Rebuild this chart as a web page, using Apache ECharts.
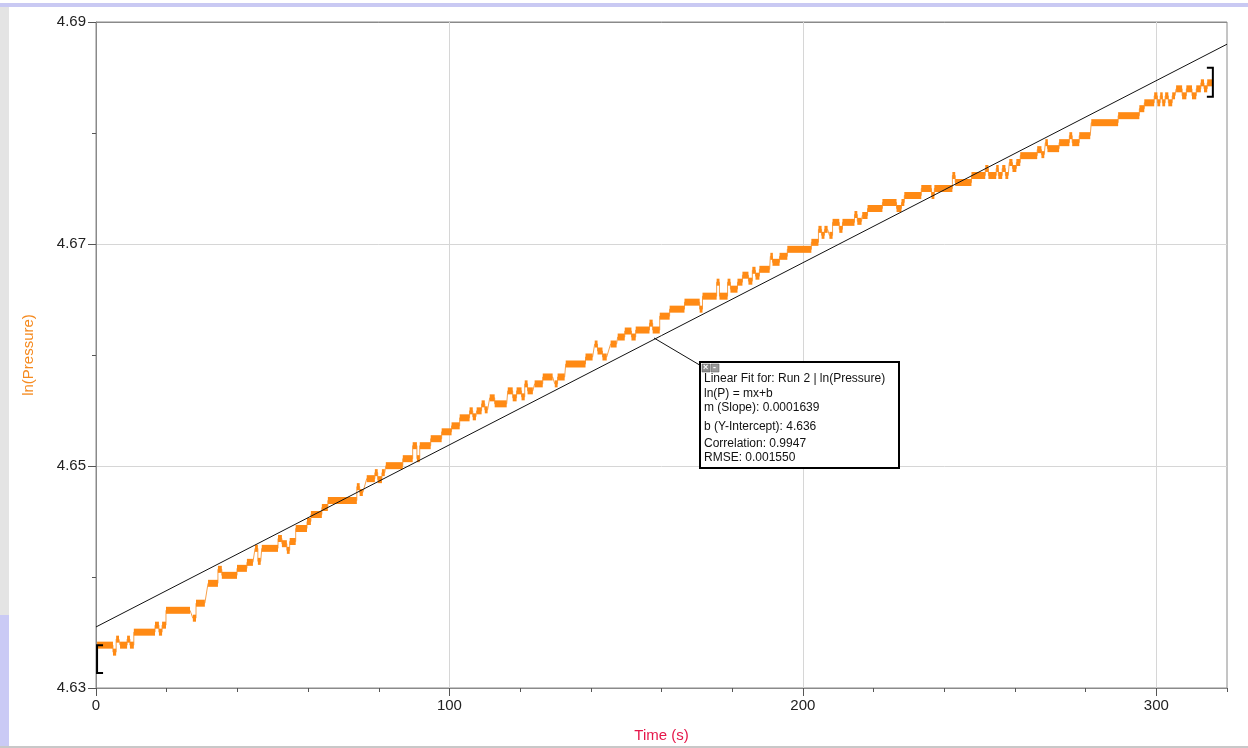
<!DOCTYPE html>
<html><head><meta charset="utf-8">
<script src="https://cdn.jsdelivr.net/npm/echarts@6/dist/echarts.min.js"></script>
<style>html,body{margin:0;padding:0;background:#fff;overflow:hidden}#c{width:1248px;height:748px}</style>
</head><body><div id="c"></div>
<script>
// Runs of the quantized ln(Pressure) trace: start time (s), end time (s), value
const runStart = [0.3,4.8,5.7,6.8,8.8,9.6,10.7,16.7,17.8,18.7,19.8,27.4,28.3,31.7,34.5,35.6,39.9,42.7,45.0,45.8,46.9,51.5,52.6,54.0,54.8,56.5,59.7,60.8,63.9,65.6,73.8,74.6,76.6,78.9,79.7,80.9,82.0,86.8,89.6,90.8,91.6,94.7,97.8,100.6,102.9,105.7,106.6,107.7,109.1,110.0,111.4,112.8,116.5,117.9,119.0,120.4,121.3,122.1,124.1,126.4,129.8,130.6,132.9,138.5,141.1,141.9,143.3,145.6,147.6,149.6,151.5,152.7,156.6,157.5,159.5,162.3,166.5,170.8,171.6,175.6,176.4,178.7,179.5,181.5,182.9,184.6,185.7,186.6,187.7,190.8,191.4,193.4,195.6,202.4,204.4,205.3,206.1,207.5,208.4,210.3,211.2,214.6,215.4,216.8,218.3,222.5,226.5,227.9,228.7,233.5,236.4,237.2,242.3,243.1,247.7,251.6,252.5,254.7,255.3,256.4,257.3,258.4,259.3,260.4,261.5,266.3,267.5,268.6,269.2,272.5,275.4,276.2,278.2,281.6,289.2,295.2,296.6,299.4,300.3,301.1,301.7,302.5,303.4,304.5,305.6,307.3,308.5,310.1,311.3,312.6,313.5,314.4];
const runEnd = [4.8,5.7,6.5,8.8,9.6,10.7,16.7,17.8,18.7,19.8,26.6,28.3,30.8,34.5,35.6,39.9,42.7,44.4,45.8,46.6,51.5,52.6,54.0,54.8,56.5,59.7,60.8,63.9,65.6,73.8,74.6,75.5,78.9,79.7,80.9,81.7,86.8,89.6,90.8,91.6,94.7,97.8,100.6,102.9,105.7,106.6,107.5,109.1,110.0,110.8,112.8,116.2,117.9,119.0,120.4,121.3,122.1,123.6,126.4,129.2,130.6,132.6,138.5,140.5,141.9,143.3,144.5,147.3,149.6,151.5,152.7,156.6,157.5,159.5,162.3,166.5,170.8,171.6,175.6,176.4,178.7,179.5,181.5,182.9,184.6,185.7,186.6,187.7,190.6,191.4,193.4,195.6,202.4,204.4,205.3,206.1,207.0,208.4,210.3,211.2,214.6,215.4,216.6,218.3,222.5,226.5,227.9,228.7,233.5,236.4,237.2,242.3,243.1,247.7,251.6,252.5,254.7,255.3,256.4,257.3,258.1,259.3,260.4,261.5,266.3,267.5,268.3,269.2,272.5,275.4,276.2,278.2,281.3,289.2,295.2,296.6,299.4,300.3,301.1,301.7,302.5,303.4,304.5,305.3,307.3,308.5,310.1,311.3,312.6,313.5,314.4,315.8];
const runValue = [4.63386,4.63323,4.63440,4.63386,4.63440,4.63386,4.63503,4.63566,4.63503,4.63566,4.63700,4.63629,4.63764,4.63943,4.64069,4.64015,4.64078,4.64132,4.64258,4.64141,4.64258,4.64347,4.64300,4.64240,4.64320,4.64437,4.64500,4.64563,4.64626,4.64689,4.64814,4.64761,4.64886,4.64940,4.64877,4.64940,4.65003,4.65066,4.65183,4.65066,4.65183,4.65246,4.65308,4.65362,4.65434,4.65497,4.65443,4.65497,4.65560,4.65506,4.65614,4.65560,4.65677,4.65614,4.65677,4.65623,4.65740,4.65677,4.65740,4.65802,4.65740,4.65802,4.65919,4.65982,4.66099,4.66036,4.65982,4.66099,4.66162,4.66216,4.66162,4.66225,4.66287,4.66225,4.66350,4.66413,4.66476,4.66413,4.66530,4.66656,4.66530,4.66656,4.66593,4.66656,4.66719,4.66665,4.66763,4.66710,4.66772,4.66889,4.66835,4.66889,4.66952,4.67015,4.67132,4.67078,4.67132,4.67078,4.67195,4.67132,4.67195,4.67266,4.67204,4.67257,4.67320,4.67374,4.67320,4.67374,4.67437,4.67500,4.67437,4.67500,4.67617,4.67554,4.67617,4.67680,4.67617,4.67680,4.67617,4.67680,4.67617,4.67734,4.67680,4.67734,4.67796,4.67850,4.67805,4.67913,4.67859,4.67913,4.67976,4.67913,4.67976,4.68093,4.68156,4.68219,4.68272,4.68335,4.68272,4.68335,4.68272,4.68335,4.68272,4.68335,4.68398,4.68335,4.68398,4.68335,4.68398,4.68452,4.68398,4.68452];

// Linear fit line end points (time, ln P)
const fitTime = [0, 320];
const fitValue = [4.6355, 4.6880];

// Data-range brackets: time, top value, bottom value, direction (-1 = "[", 1 = "]")
const bracketTime = [0.3, 316.0];
const bracketTop = [4.63386, 4.68587];
const bracketBottom = [4.63135, 4.68326];
const bracketDir = [-1, 1];

// Axis ticks
const xMajorTicks = [0, 100, 200, 300];
const yMajorTicks = [4.63, 4.65, 4.67, 4.69];

const fitLines = [
  'Linear Fit for: Run 2 | ln(Pressure)',
  'ln(P) = mx+b',
  'm (Slope): 0.0001639',
  'b (Y-Intercept): 4.636',
  'Correlation: 0.9947',
  'RMSE: 0.001550'
];

const chart = echarts.init(document.getElementById('c'), null, {renderer: 'canvas'});

const trace = [];
const bars = [];
for (let i = 0; i < runStart.length; i++) {
  trace.push([runStart[i], runValue[i]]);
  trace.push([runEnd[i], runValue[i]]);
  bars.push([runStart[i], runEnd[i], runValue[i]]);
}
const fitData = fitTime.map((t, i) => [t, fitValue[i]]);
const bracketData = bracketTime.map((t, i) => [t, bracketTop[i], bracketBottom[i], bracketDir[i]]);

const FONT = 'Arial, "Liberation Sans", sans-serif';
const GRID_C = '#d6d6d6';
const AXIS_C = '#8a8a8a';

const textEls = fitLines.map((s, i) => ({
  type: 'text', left: 704, top: [373, 388, 402, 421, 438, 452][i], z: 102,
  style: {text: s, fill: '#111', font: '12px ' + FONT}
}));

chart.setOption({
  animation: false,
  backgroundColor: '#fff',
  grid: {left: 96, right: 21, top: 22, bottom: 58, show: true, borderColor: AXIS_C, borderWidth: 1, containLabel: false},
  xAxis: [{
    type: 'value', min: 0, max: 320, interval: 20,
    name: 'Time (s)', nameLocation: 'middle', nameGap: 40,
    nameTextStyle: {color: '#e5174a', fontSize: 15, fontFamily: FONT},
    axisLine: {show: true, lineStyle: {color: AXIS_C}},
    axisTick: {show: true, length: 4, lineStyle: {color: '#555'}},
    axisLabel: {color: '#222', fontSize: 15, fontFamily: FONT, margin: 10,
      formatter: v => (xMajorTicks.indexOf(Math.round(v)) >= 0 ? String(Math.round(v)) : '')},
    splitLine: {show: true, lineStyle: {color: [AXIS_C, 'rgba(0,0,0,0)', 'rgba(0,0,0,0)', 'rgba(0,0,0,0)', 'rgba(0,0,0,0)', GRID_C, 'rgba(0,0,0,0)', 'rgba(0,0,0,0)', 'rgba(0,0,0,0)', 'rgba(0,0,0,0)', GRID_C, 'rgba(0,0,0,0)', 'rgba(0,0,0,0)', 'rgba(0,0,0,0)', 'rgba(0,0,0,0)', GRID_C, 'rgba(0,0,0,0)']}}
  }, {
    type: 'value', min: 0, max: 320, interval: 20, position: 'bottom',
    axisLine: {show: false},
    axisTick: {show: true, length: 8, customValues: xMajorTicks, lineStyle: {color: '#555'}},
    axisLabel: {show: false},
    splitLine: {show: false}
  }],
  yAxis: [{
    type: 'value', min: 4.63, max: 4.69, interval: 0.01,
    name: 'ln(Pressure)', nameLocation: 'middle', nameGap: 60, nameRotate: 90,
    nameTextStyle: {color: '#f58a1f', fontSize: 15, fontFamily: FONT},
    axisLine: {show: true, lineStyle: {color: AXIS_C}},
    axisTick: {show: true, length: 4, lineStyle: {color: '#555'}},
    axisLabel: {color: '#222', fontSize: 15, fontFamily: FONT, margin: 10,
      formatter: v => (Math.round(v * 100) % 2 === 1 ? v.toFixed(2) : '')},
    splitLine: {show: true, lineStyle: {color: [AXIS_C, 'rgba(0,0,0,0)', GRID_C, 'rgba(0,0,0,0)', GRID_C, 'rgba(0,0,0,0)', AXIS_C]}}
  }, {
    type: 'value', min: 4.63, max: 4.69, interval: 0.01, position: 'left',
    axisLine: {show: false},
    axisTick: {show: true, length: 8, customValues: yMajorTicks, lineStyle: {color: '#555'}},
    axisLabel: {show: false},
    splitLine: {show: false}
  }],
  series: [{
    type: 'line', name: 'trace', data: trace, showSymbol: false, symbol: 'none',
    lineStyle: {color: '#f7a04a', width: 1}, z: 3, silent: true
  }, {
    type: 'custom', name: 'runs', data: bars, z: 4, silent: true,
    encode: {x: [0, 1], y: 2},
    renderItem: (params, api) => {
      const p0 = api.coord([api.value(0), api.value(2)]);
      const p1 = api.coord([api.value(1), api.value(2)]);
      const w = Math.max(p1[0] - p0[0], 2.5);
      return {type: 'rect', shape: {x: p0[0], y: p0[1] - 3.5, width: w, height: 7}, style: {fill: '#ff8a14'}};
    }
  }, {
    type: 'line', name: 'fit', data: fitData, showSymbol: false, symbol: 'none',
    lineStyle: {color: '#111', width: 1}, z: 5, silent: true
  }, {
    type: 'custom', name: 'brackets', data: bracketData, z: 6, silent: true,
    encode: {x: 0, y: [1, 2]},
    renderItem: (params, api) => {
      const top = api.coord([api.value(0), api.value(1)]);
      const bot = api.coord([api.value(0), api.value(2)]);
      const d = api.value(3);
      const s = -d * 6;
      return {type: 'polyline', shape: {points: [[top[0] + s, top[1]], [top[0], top[1]], [bot[0], bot[1]], [bot[0] + s, bot[1]]]},
        style: {stroke: '#000', lineWidth: 2, fill: null}};
    }
  }],
  graphic: [
    {type: 'rect', shape: {x: 0, y: 3, width: 1248, height: 4}, style: {fill: '#c9c9f3'}, z: 1},
    {type: 'rect', shape: {x: 0, y: 7, width: 9, height: 608}, style: {fill: '#e4e4e4'}, z: 1},
    {type: 'rect', shape: {x: 0, y: 615, width: 9, height: 131}, style: {fill: '#cacaf5'}, z: 1},
    {type: 'rect', shape: {x: 0, y: 746, width: 1248, height: 2}, style: {fill: '#c8c8c8'}, z: 1},
    {type: 'line', shape: {x1: 654, y1: 338, x2: 703, y2: 367}, style: {stroke: '#111', lineWidth: 1}, z: 100},
    {type: 'rect', shape: {x: 700, y: 362, width: 199, height: 106}, style: {fill: '#fff', stroke: '#000', lineWidth: 2}, z: 101},
    {type: 'rect', shape: {x: 702, y: 364, width: 8, height: 8}, style: {fill: '#8c8c8c', stroke: '#555', lineWidth: 0.5}, z: 102},
    {type: 'rect', shape: {x: 711, y: 364, width: 8, height: 8}, style: {fill: '#9a9a9a', stroke: '#555', lineWidth: 0.5}, z: 102},
    {type: 'text', left: 703, top: 363, z: 103, style: {text: '×', fill: '#fff', font: 'bold 9px ' + FONT}},
    {type: 'text', left: 713, top: 363, z: 103, style: {text: '-', fill: '#fff', font: 'bold 9px ' + FONT}}
  ].concat(textEls)
});
</script>
</body></html>
